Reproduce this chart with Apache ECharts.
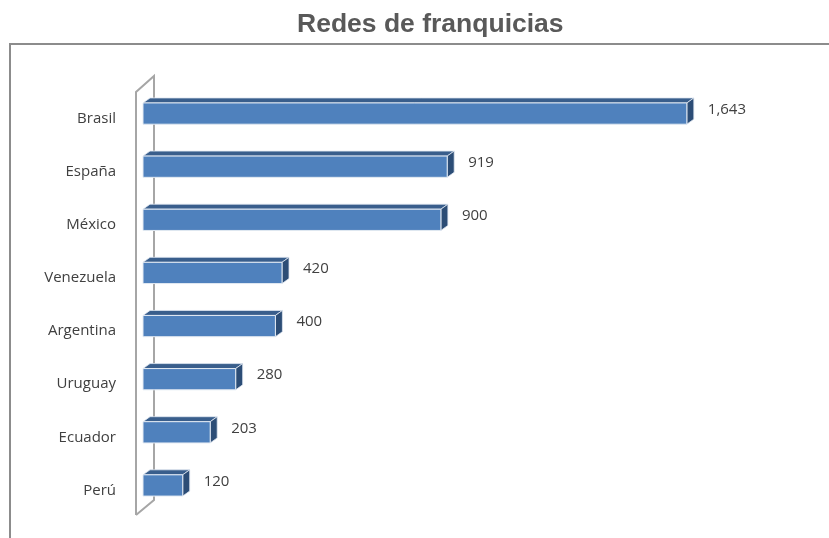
<!DOCTYPE html>
<html>
<head>
<meta charset="utf-8">
<script src="https://cdn.jsdelivr.net/npm/echarts@6/dist/echarts.min.js"></script>
<style>
  html, body { margin: 0; padding: 0; background: #fff; }
  #chart { width: 829px; height: 538px; }
</style>
</head>
<body>
<div id="chart"></div>
<script>
// Redes de franquicias por país
const countries = ['Brasil', 'España', 'México', 'Venezuela', 'Argentina', 'Uruguay', 'Ecuador', 'Perú']
const franchises = [1643, 919, 900, 420, 400, 280, 203, 120]

const GRID = { left: 143, top: 87, width: 662, height: 425 }
const DEPTH_X = 7
const DEPTH_Y = 5

const chart = echarts.init(document.getElementById('chart'))

// barra 3D: cara frontal + cara superior + lateral
const renderBar = (params, api) => {
  const cat = api.value(0)
  const val = api.value(1)
  const start = api.coord([0, cat])
  const end = api.coord([val, cat])
  const band = api.size([0, 1])[1]
  const h = band * 0.4
  const x0 = start[0]
  const x1 = end[0]
  const yTop = end[1] - h / 2
  const yBot = end[1] + h / 2
  return {
    type: 'group',
    children: [
      {
        type: 'polygon',
        shape: { points: [[x0, yTop], [x0 + DEPTH_X, yTop - DEPTH_Y], [x1 + DEPTH_X, yTop - DEPTH_Y], [x1, yTop]] },
        style: { fill: '#395e8c', stroke: '#dfe7f1', lineWidth: 0.8 },
      },
      {
        type: 'polygon',
        shape: { points: [[x1, yTop], [x1 + DEPTH_X, yTop - DEPTH_Y], [x1 + DEPTH_X, yBot - DEPTH_Y], [x1, yBot]] },
        style: { fill: '#2c4d76', stroke: '#dfe7f1', lineWidth: 0.8 },
      },
      {
        type: 'rect',
        shape: { x: x0, y: yTop, width: x1 - x0, height: h },
        style: { fill: '#4f81bd', stroke: '#e3eaf3', lineWidth: 1 },
      },
      {
        type: 'text',
        x: x1 + DEPTH_X + 14,
        y: end[1] - 4,
        style: {
          text: val.toLocaleString('en-US'),
          fill: '#404040',
          font: '15px "Open Sans", sans-serif',
          verticalAlign: 'middle',
        },
      },
    ],
  }
}

const wallLeft = 136
const wallRight = 154

chart.setOption({
  animation: false,
  title: {
    text: 'Redes de franquicias',
    left: 292,
    top: 6,
    textStyle: { color: '#595959', fontSize: 26.5, fontWeight: 'bold', fontFamily: 'Liberation Sans, Arial, sans-serif' },
  },
  graphic: [
    {
      type: 'rect',
      shape: { x: 10, y: 44, width: 900, height: 600 },
      style: { fill: 'none', stroke: '#8c8c8c', lineWidth: 2 },
      z: 0,
    },
    {
      type: 'polyline',
      shape: { points: [[wallLeft, 515], [wallLeft, 92], [wallRight, 76], [wallRight, 500], [wallLeft, 515]] },
      style: { fill: 'none', stroke: '#a6a6a6', lineWidth: 2 },
      z: 0,
    },
  ],
  grid: GRID,
  xAxis: {
    type: 'value',
    min: 0,
    max: 2000,
    show: false,
  },
  yAxis: {
    type: 'category',
    data: countries,
    inverse: true,
    axisLine: { show: false },
    axisTick: { show: false },
    axisLabel: {
      color: '#404040',
      fontSize: 15,
      fontFamily: 'Open Sans, sans-serif',
      margin: 27,
      verticalAlign: 'top',
      lineHeight: 10,
    },
  },
  series: [
    {
      type: 'custom',
      renderItem: renderBar,
      encode: { x: 1, y: 0 },
      data: franchises.map((v, i) => [i, v]),
      z: 5,
    },
  ],
})
</script>
</body>
</html>
